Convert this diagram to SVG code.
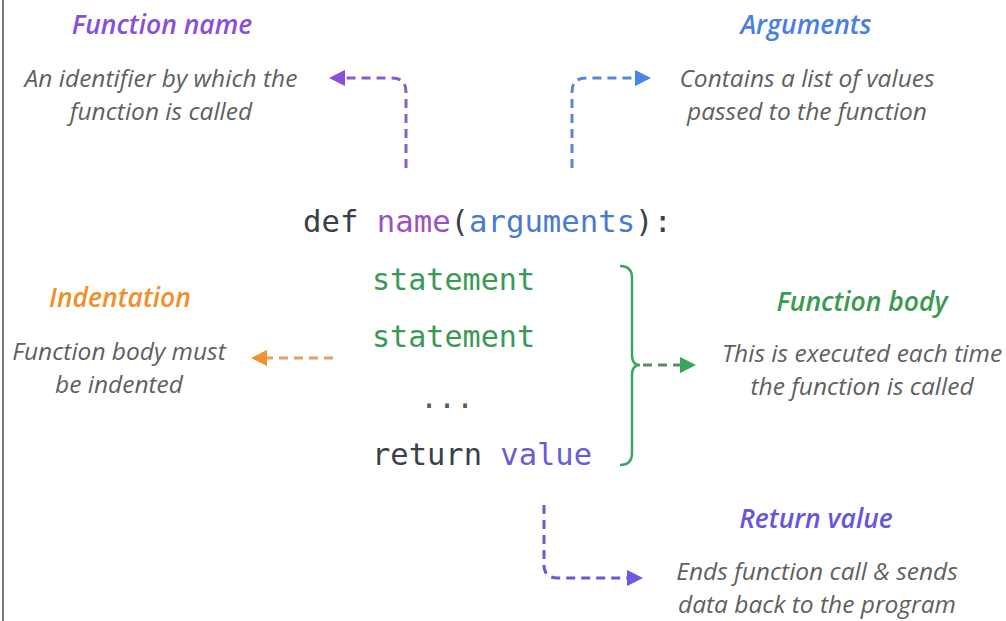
<svg xmlns="http://www.w3.org/2000/svg" width="1006" height="621" viewBox="0 0 1006 621">
<defs>
<style>
.title{font-family:"Open Sans","Liberation Sans",sans-serif;font-style:italic;font-weight:600;font-size:26.5px;text-anchor:middle}
.desc{font-family:"Open Sans","Liberation Sans",sans-serif;font-style:italic;font-size:24.5px;fill:#5f5f5f;text-anchor:middle}
.code{font-family:"DejaVu Sans Mono","Liberation Mono",monospace;font-size:30px}
.dash{fill:none;stroke-width:3;stroke-dasharray:9 6}
</style>
<marker id="hPurple" viewBox="0 0 10 10" refX="2" refY="5" markerWidth="5.5" markerHeight="5.5" orient="auto"><path d="M0,0 L10,5 L0,10 z" fill="#8a4fd8"/></marker>
<marker id="hBlue" viewBox="0 0 10 10" refX="2" refY="5" markerWidth="5.5" markerHeight="5.5" orient="auto"><path d="M0,0 L10,5 L0,10 z" fill="#4a86e8"/></marker>
<marker id="hOrange" viewBox="0 0 10 10" refX="2" refY="5" markerWidth="5.5" markerHeight="5.5" orient="auto"><path d="M0,0 L10,5 L0,10 z" fill="#f0922e"/></marker>
<marker id="hGreen" viewBox="0 0 10 10" refX="2" refY="5" markerWidth="5.5" markerHeight="5.5" orient="auto"><path d="M0,0 L10,5 L0,10 z" fill="#3aa655"/></marker>
<marker id="hViolet" viewBox="0 0 10 10" refX="2" refY="5" markerWidth="5.5" markerHeight="5.5" orient="auto"><path d="M0,0 L10,5 L0,10 z" fill="#6a5ae0"/></marker>
</defs>
<rect width="1006" height="621" fill="#ffffff"/>
<line x1="3" y1="0" x2="3" y2="621" stroke="#777777" stroke-width="2"/>

<g id="code">
<text class="code" x="303" y="232" textLength="369" lengthAdjust="spacingAndGlyphs"><tspan fill="#3a3f4a">def </tspan><tspan fill="#9a4fc8">name</tspan><tspan fill="#3a3f4a">(</tspan><tspan fill="#4a7ad0">arguments</tspan><tspan fill="#3a3f4a">):</tspan></text>
<text class="code" x="372" y="290" fill="#3a9a55" textLength="163" lengthAdjust="spacingAndGlyphs">statement</text>
<text class="code" x="372" y="347" fill="#3a9a55" textLength="163" lengthAdjust="spacingAndGlyphs">statement</text>
<text class="code" x="420" y="408" fill="#555a63">...</text>
<text class="code" x="372" y="465" textLength="220" lengthAdjust="spacingAndGlyphs"><tspan fill="#3a3f4a">return </tspan><tspan fill="#6a5ad8">value</tspan></text>
</g>

<g id="function-name">
<text class="title" x="162" y="34" fill="#8a4fd8">Function name</text>
<text class="desc" x="161" y="87">An identifier by which the</text>
<text class="desc" x="161" y="120">function is called</text>
</g>

<g id="arguments">
<text class="title" x="806" y="34" fill="#4a7fe0">Arguments</text>
<text class="desc" x="807" y="87">Contains a list of values</text>
<text class="desc" x="807" y="120">passed to the function</text>
</g>

<g id="indentation">
<text class="title" x="120" y="307" fill="#f0902a">Indentation</text>
<text class="desc" x="119" y="360">Function body must</text>
<text class="desc" x="119" y="393">be indented</text>
</g>

<g id="function-body">
<text class="title" x="862" y="311" fill="#3a9a50">Function body</text>
<text class="desc" x="862" y="362">This is executed each time</text>
<text class="desc" x="862" y="395">the function is called</text>
</g>

<g id="return-value">
<text class="title" x="816" y="528" fill="#6655dd">Return value</text>
<text class="desc" x="817" y="580">Ends function call &amp; sends</text>
<text class="desc" x="817" y="613">data back to the program</text>
</g>

<g id="connectors">
<path class="dash" d="M406,168 L406,92 Q406,78 392,78 L342,78" stroke="#8a5cc8" marker-end="url(#hPurple)"/>
<path class="dash" d="M572,168 L572,92 Q572,78 586,78 L638,78" stroke="#5a86d8" marker-end="url(#hBlue)"/>
<path class="dash" d="M333,358 L264,358" stroke="#e8a060" marker-end="url(#hOrange)"/>
<path d="M620,266 Q632,266 632,278 L632,355 Q632,365 640,365 Q632,365 632,375 L632,453 Q632,465 620,465" fill="none" stroke="#3aa65f" stroke-width="2.5"/>
<path class="dash" d="M643,365 L683,365" stroke="#5f8a68" marker-end="url(#hGreen)"/>
<path class="dash" d="M544,505 L544,565 Q544,578 558,578 L630,578" stroke="#6a5ad0" marker-end="url(#hViolet)"/>
</g>
</svg>
